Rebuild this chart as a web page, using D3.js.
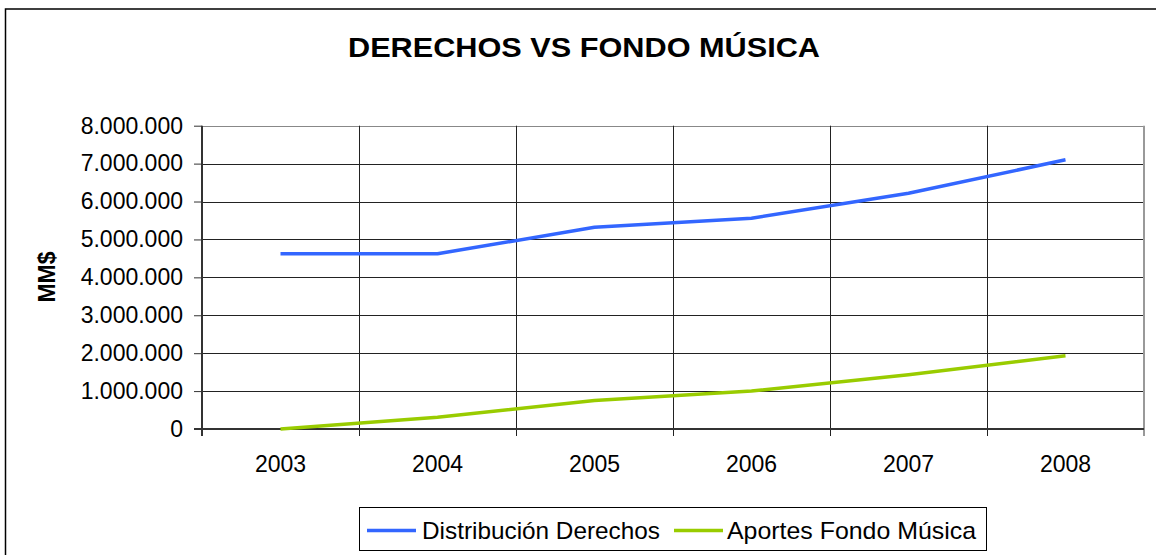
<!DOCTYPE html>
<html><head><meta charset="utf-8">
<script src="https://cdn.jsdelivr.net/npm/d3@7"></script>
<style>html,body{margin:0;padding:0;background:#fff;}svg{display:block;font-family:"Liberation Sans",Arial,sans-serif;}</style>
</head><body>
<svg id="c" width="1156" height="555"></svg>
<script>
const years = ["2003","2004","2005","2006","2007","2008"];
const derechos = [4620000, 4620000, 5320000, 5560000, 6220000, 7100000];
const fondo = [0, 310000, 750000, 1000000, 1430000, 1930000];
const yTicks = [0,1000000,2000000,3000000,4000000,5000000,6000000,7000000,8000000];
const seriesNames = ["Distribución Derechos","Aportes Fondo Música"];
const colors = ["#3366FF","#99CC00"];
const title = "DERECHOS VS FONDO MÚSICA";
const yLabel = "MM$";

const svg = d3.select("#c");
const L=202, R=1144, T=125.7, B=429;
const x = d3.scaleBand().domain(years).range([L,R]);
const y = d3.scaleLinear().domain([0,8000000]).range([B,T]);
const fmt = v => d3.format(",")(v).replace(/,/g,".");

// outer border
svg.append("rect").attr("x",5.5).attr("y",9).attr("width",1160).attr("height",560)
  .attr("fill","none").attr("stroke","#000").attr("stroke-width",1.5);

// title
svg.append("text").attr("x",584).attr("y",57).attr("text-anchor","middle")
  .attr("font-size",28.5).attr("font-weight","bold").attr("textLength",472)
  .attr("lengthAdjust","spacingAndGlyphs").text(title);

// horizontal grid
svg.append("g").selectAll("line").data(yTicks.slice(1)).join("line")
  .attr("x1",L).attr("x2",R).attr("y1",d=>Math.round(y(d))+0.5).attr("y2",d=>Math.round(y(d))+0.5)
  .attr("stroke",(d,i)=> d===8000000? "#888":"#222").attr("stroke-width",1);
// vertical grid
const vg = years.slice(1).map(d=>x(d));
svg.append("g").selectAll("line").data(vg).join("line")
  .attr("x1",d=>Math.round(d)+0.5).attr("x2",d=>Math.round(d)+0.5).attr("y1",T).attr("y2",B+7)
  .attr("stroke","#222");
// right border
svg.append("line").attr("x1",R).attr("x2",R).attr("y1",T).attr("y2",B+7).attr("stroke","#999").attr("stroke-width",2);

// y axis
const yAx = svg.append("g").attr("transform",`translate(${L},0)`)
  .call(d3.axisLeft(y).tickValues(yTicks).tickFormat(fmt).tickSize(8).tickPadding(11));
yAx.select(".domain").attr("stroke","#333").attr("stroke-width",2).attr("d",`M0,${T}V${B+7}`);
yAx.selectAll(".tick line").attr("stroke","#333");
yAx.selectAll("text").attr("font-size",23).attr("fill","#000").attr("font-family","Liberation Sans, Arial, sans-serif");

// x axis
const xAx = svg.append("g").attr("transform",`translate(0,${B})`)
  .call(d3.axisBottom(x).tickSize(0).tickPadding(27));
xAx.select(".domain").attr("stroke","#333").attr("stroke-width",2).attr("d",`M${L-8},0H${R}`);
xAx.selectAll("text").attr("font-size",23).attr("fill","#000").attr("font-family","Liberation Sans, Arial, sans-serif");

// y label
svg.append("text").attr("transform","translate(55,277) rotate(-90)").attr("text-anchor","middle")
  .attr("font-size",23).attr("font-weight","bold").text(yLabel);

// lines
const line = d3.line().x((d,i)=>x(years[i])+x.bandwidth()/2).y(d=>y(d));
[derechos,fondo].forEach((s,i)=>{
  svg.append("path").attr("d",line(s)).attr("fill","none").attr("stroke",colors[i])
    .attr("stroke-width",3.5).attr("stroke-linejoin","round");
});

// legend
svg.append("rect").attr("x",359.5).attr("y",507.5).attr("width",627).attr("height",43)
  .attr("fill","#fff").attr("stroke","#000").attr("stroke-width",1);
const lx = [367, 674], tx=[422, 727], tl=[238, 249];
seriesNames.forEach((n,i)=>{
  svg.append("line").attr("x1",lx[i]).attr("x2",lx[i]+49).attr("y1",530.5).attr("y2",530.5)
    .attr("stroke",colors[i]).attr("stroke-width",3.5);
  svg.append("text").attr("x",tx[i]).attr("y",539).attr("font-size",24)
    .attr("textLength",tl[i]).attr("lengthAdjust","spacingAndGlyphs").text(n);
});
</script>
</body></html>
